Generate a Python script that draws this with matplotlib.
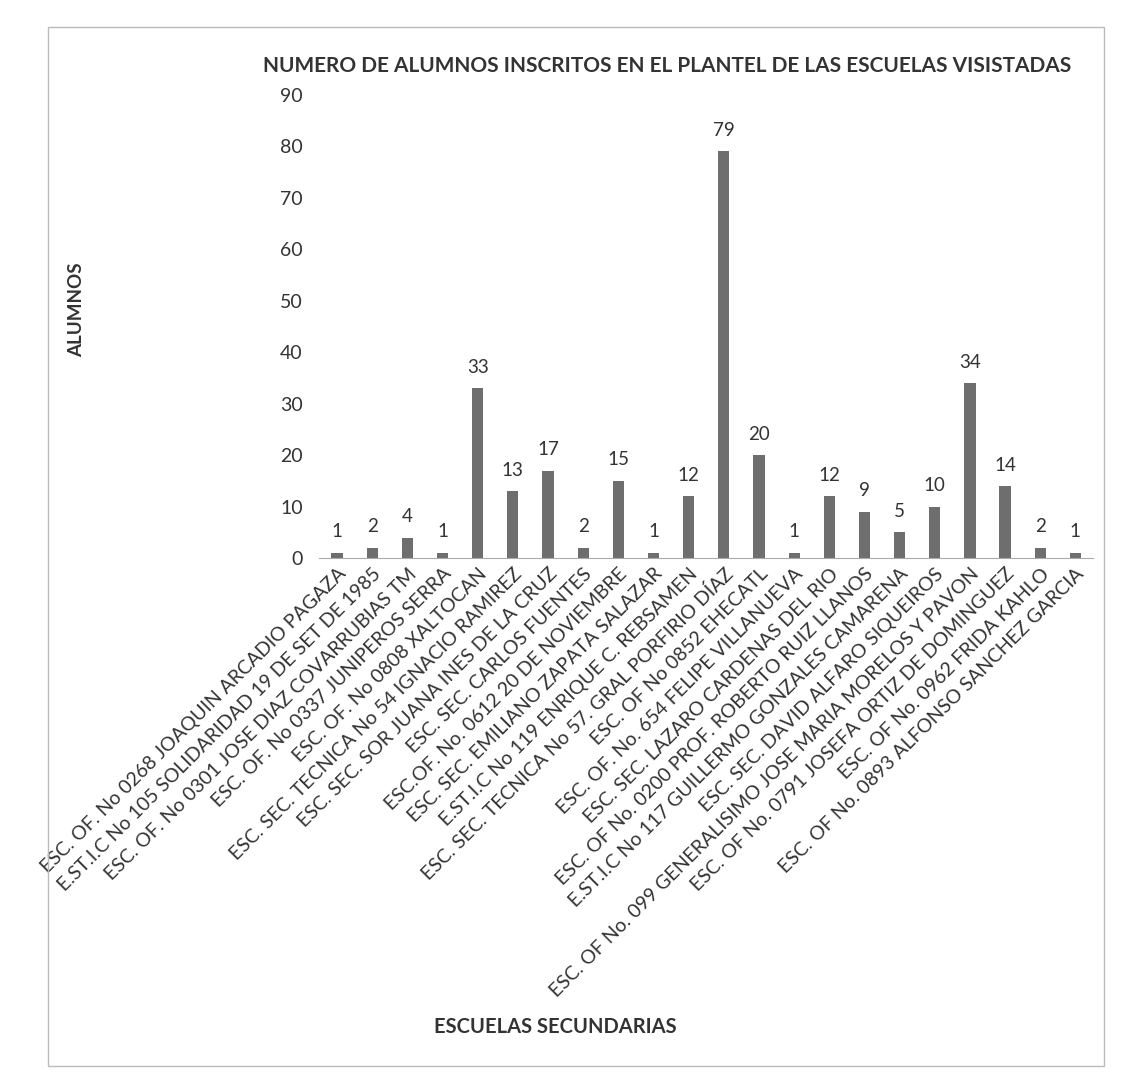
import matplotlib.pyplot as plt
from matplotlib.patches import Rectangle

plt.rcParams['font.family'] = ['Lato', 'DejaVu Sans']

escuelas = [
    'ESC. OF. No 0268 JOAQUIN ARCADIO PAGAZA',
    'E.ST.I.C No 105 SOLIDARIDAD 19 DE SET DE 1985',
    'ESC. OF. No 0301 JOSE DIAZ COVARRUBIAS TM',
    'ESC. OF. No 0337 JUNIPEROS SERRA',
    'ESC. OF. No 0808 XALTOCAN',
    'ESC. SEC. TECNICA No 54 IGNACIO RAMIREZ',
    'ESC. SEC. SOR JUANA INES DE LA CRUZ',
    'ESC. SEC. CARLOS FUENTES',
    'ESC.OF. No. 0612 20 DE NOVIEMBRE',
    'ESC. SEC. EMILIANO ZAPATA SALAZAR',
    'E.ST.I.C No 119 ENRIQUE C. REBSAMEN',
    'ESC. SEC. TECNICA No 57. GRAL PORFIRIO DÍAZ',
    'ESC. OF No 0852 EHECATL',
    'ESC. OF. No. 654 FELIPE VILLANUEVA',
    'ESC. SEC. LAZARO CARDENAS DEL RIO',
    'ESC. OF No. 0200 PROF. ROBERTO RUIZ LLANOS',
    'E.ST.I.C No 117 GUILLERMO GONZALES CAMARENA',
    'ESC. SEC. DAVID ALFARO SIQUEIROS',
    'ESC. OF No. 099 GENERALISIMO JOSE MARIA MORELOS Y PAVON',
    'ESC. OF No. 0791 JOSEFA ORTIZ DE DOMINGUEZ',
    'ESC. OF No. 0962 FRIDA KAHLO',
    'ESC. OF No. 0893 ALFONSO SANCHEZ GARCIA',
]
alumnos = [1, 2, 4, 1, 33, 13, 17, 2, 15, 1, 12, 79, 20, 1, 12, 9, 5, 10, 34, 14, 2, 1]

fig = plt.figure(figsize=(11.21, 10.88), dpi=100)
ax = fig.add_axes([0.285, 0.487, 0.69, 0.426])

x = range(len(escuelas))
barras = ax.bar(x, alumnos, width=0.32, color='#6e6e6e')
ax.bar_label(barras, padding=9, fontsize=13.5, color='#333333')

ax.set_xlim(-0.5, len(escuelas) - 0.5)
ax.set_ylim(0, 90)
ax.set_yticks(range(0, 91, 10))
ax.set_xticks(list(x))
ax.set_xticklabels(escuelas, rotation=45, ha='right', rotation_mode='anchor', fontsize=14, color='#333333')
ax.tick_params(axis='y', length=0, labelsize=14, labelcolor='#333333', pad=12)
ax.tick_params(axis='x', length=0, pad=5)

for lado in ['top', 'right', 'left']:
    ax.spines[lado].set_visible(False)
ax.spines['bottom'].set_color('#aaaaaa')

fig.text(0.595, 0.93, 'NUMERO DE ALUMNOS INSCRITOS EN EL PLANTEL DE LAS ESCUELAS VISISTADAS',
         ha='center', va='bottom', fontsize=15, fontweight='bold', color='#333333')
fig.text(0.068, 0.715, 'ALUMNOS', rotation=90, ha='center', va='center',
         fontsize=13.5, fontweight='bold', color='#333333')
fig.text(0.495, 0.056, 'ESCUELAS SECUNDARIAS', ha='center', va='center',
         fontsize=14.5, fontweight='bold', color='#333333')

# borde del area del grafico
fig.patches.append(Rectangle((0.043, 0.02), 0.942, 0.955, transform=fig.transFigure,
                             fill=False, edgecolor='#bbbbbb', linewidth=1))

fig.savefig('out.png', dpi=100)
